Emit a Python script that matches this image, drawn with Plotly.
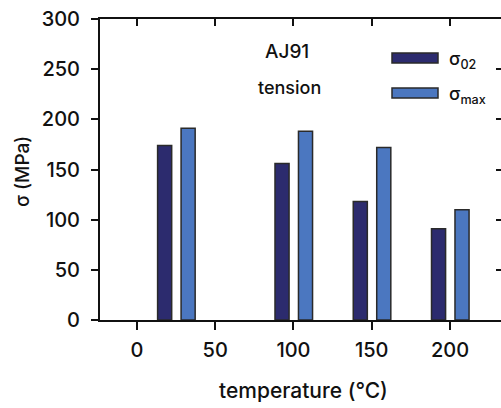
import plotly.graph_objects as go

temps = [25, 100, 150, 200]
sigma_02 = [174, 156, 118, 91]
sigma_max = [191, 188, 172, 110]
x_ticks = [0, 50, 100, 150, 200]
y_ticks = [0, 50, 100, 150, 200, 250, 300]

C02 = "#2c2b6e"
CMAX = "#4b77c0"
EDGE = "#2a2a2a"
FONT = "Inter, Liberation Sans, Arial, sans-serif"
WEIGHT = 500

W, H = 501, 408
L, R, T, B = 100, 0, 19, 88
xr = [-23.6, 232.6]

def px(x):
    return (x - L) / (W - L - R)

def py(y):
    return (H - B - y) / (H - T - B)

fig = go.Figure()
fig.add_trace(go.Bar(x=temps, y=sigma_02, width=9, offset=-11.8,
                     marker=dict(color=C02, line=dict(color=EDGE, width=1.5)),
                     showlegend=False))
fig.add_trace(go.Bar(x=temps, y=sigma_max, width=9, offset=3.2,
                     marker=dict(color=CMAX, line=dict(color=EDGE, width=1.5)),
                     showlegend=False))
fig.add_trace(go.Scatter(x=[None], y=[None], xaxis="x2", yaxis="y2", showlegend=False))

axis_font = dict(family=FONT, size=20, color="#111", weight=WEIGHT)
fig.update_layout(
    width=W, height=H,
    margin=dict(l=L, r=R, t=T, b=B, pad=0),
    paper_bgcolor="white", plot_bgcolor="white",
    barmode="overlay",
    font=dict(family=FONT, color="#111"),
    xaxis=dict(range=xr, tickvals=x_ticks, ticks="outside", ticklen=8, tickwidth=2,
               tickcolor="#111", showline=True, linewidth=2, linecolor="#111",
               showgrid=False, zeroline=False, tickfont=axis_font, ticklabelstandoff=3),
    xaxis2=dict(range=xr, overlaying="x", side="top", tickvals=x_ticks, ticks="inside",
                ticklen=7, tickwidth=2, tickcolor="#111", showline=True, linewidth=2,
                linecolor="#111", showgrid=False, zeroline=False, showticklabels=False),
    yaxis=dict(range=[0, 300], tickvals=y_ticks, ticks="outside", ticklen=7, tickwidth=2,
               tickcolor="#111", showline=True, linewidth=2, linecolor="#111",
               showgrid=False, zeroline=False, tickfont=axis_font, ticklabelstandoff=7),
    yaxis2=dict(range=[0, 300], overlaying="y", side="right", tickvals=y_ticks[1:-1],
                ticks="inside", ticklen=5, tickwidth=2, tickcolor="#111", showline=False,
                showgrid=False, zeroline=False, showticklabels=False),
)

ann = [
    dict(text="σ (MPa)", x=px(22), y=py(172), textangle=-90, size=19),
    dict(text="temperature (°C)", x=px(303), y=py(390), textangle=0, size=21),
    dict(text="AJ91", x=px(287), y=py(51), textangle=0, size=19),
    dict(text="tension", x=px(289), y=py(88), textangle=0, size=18),
    dict(text="σ<sub>02</sub>", x=px(447), y=py(60), textangle=0, size=18, xanchor="left"),
    dict(text="σ<sub>max</sub>", x=px(447), y=py(95), textangle=0, size=18, xanchor="left"),
]
for a in ann:
    fig.add_annotation(text=a["text"], x=a["x"], y=a["y"], xref="paper", yref="paper",
                       xanchor=a.get("xanchor", "center"), yanchor="middle",
                       textangle=a["textangle"], showarrow=False,
                       font=dict(family=FONT, size=a["size"], color="#111", weight=WEIGHT))

for (y0, y1, c) in [(53, 63, C02), (88, 98, CMAX)]:
    fig.add_shape(type="rect", xref="paper", yref="paper",
                  x0=px(392), x1=px(438), y0=py(y1), y1=py(y0),
                  fillcolor=c, line=dict(color=EDGE, width=1.5))

fig.write_html("out.html")
